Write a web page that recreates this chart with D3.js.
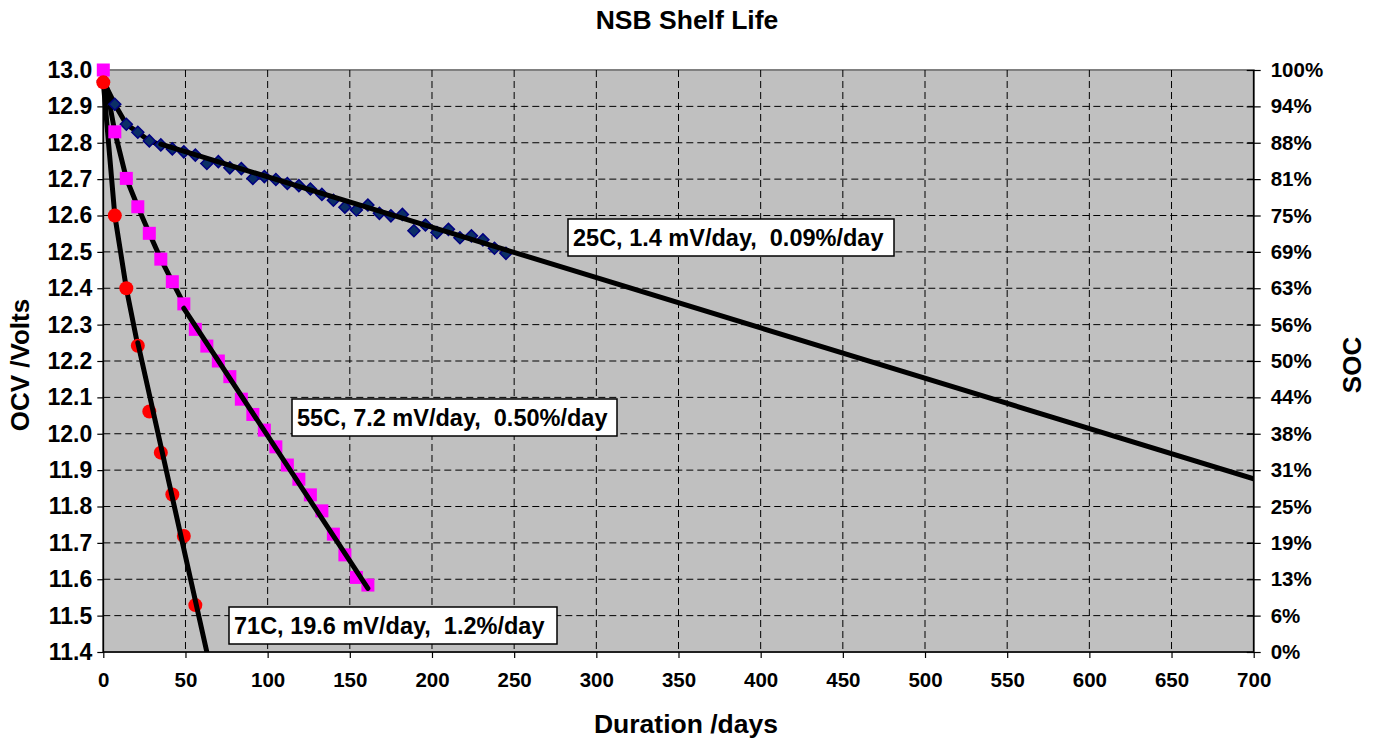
<!DOCTYPE html>
<html>
<head>
<meta charset="utf-8">
<script src="https://cdn.jsdelivr.net/npm/d3@7"></script>
<style>
  html, body { margin: 0; padding: 0; background: #ffffff; }
  svg { display: block; }
  text { font-family: "Liberation Sans", Arial, sans-serif; font-weight: bold; fill: #000; }
</style>
</head>
<body>
<div id="chart"></div>
<script>
// ---------------- DATA ----------------
const days25  = [0,7,14,21,28,35,42,49,56,63,70,77,84,91,98,105,112,119,126,133,140,147,154,161,168,175,182,189,196,203,210,217,224,231,238,245];
const volts25 = [12.970,12.906,12.851,12.829,12.805,12.794,12.783,12.775,12.766,12.743,12.748,12.731,12.729,12.702,12.707,12.699,12.688,12.682,12.673,12.658,12.642,12.623,12.615,12.629,12.606,12.599,12.603,12.558,12.574,12.553,12.562,12.539,12.544,12.533,12.510,12.496];

const days55  = [0,7,14,21,28,35,42,49,56,63,70,77,84,91,98,105,112,119,126,133,140,147,154,161];
const volts55 = [13.000,12.830,12.702,12.624,12.551,12.480,12.418,12.357,12.287,12.241,12.200,12.157,12.095,12.053,12.010,11.964,11.914,11.875,11.832,11.788,11.724,11.667,11.605,11.584];

const days71  = [0,7,14,21,28,35,42,49,56];
const volts71 = [12.966,12.600,12.400,12.242,12.061,11.948,11.833,11.719,11.529];

// fitted trend lines: [day, volts] start and end
const trend25 = [[35, 12.796], [700, 11.876]];
const trend55 = [[49, 12.345], [161, 11.575]];
const trend71 = [[21, 12.250], [63, 11.400]];
// days up to which the measured points are joined by a line
const joinUntil25 = 35, joinUntil55 = 49, joinUntil71 = 21;

const xTicks = [0,50,100,150,200,250,300,350,400,450,500,550,600,650,700];
const yTicks = [11.4,11.5,11.6,11.7,11.8,11.9,12.0,12.1,12.2,12.3,12.4,12.5,12.6,12.7,12.8,12.9,13.0];
const socLabels = ["0%","6%","13%","19%","25%","31%","38%","44%","50%","56%","63%","69%","75%","81%","88%","94%","100%"];

const labels = [
  {text: "25C, 1.4 mV/day,  0.09%/day"},
  {text: "55C, 7.2 mV/day,  0.50%/day"},
  {text: "71C, 19.6 mV/day,  1.2%/day"}
];

// ---------------- LAYOUT ----------------
const W = 1375, H = 740;
const L = 103.3, R = 1253.7, T = 70, B = 652;

const svg = d3.select("#chart").append("svg").attr("width", W).attr("height", H);

const x = d3.scaleLinear().domain([0, 700]).range([L, R]);
const y = d3.scaleLinear().domain([11.4, 13.0]).range([B, T]);

// plot background
svg.append("rect").attr("x", L).attr("y", T).attr("width", R - L).attr("height", B - T)
  .attr("fill", "#c0c0c0").attr("stroke", "#808080").attr("stroke-width", 2);

svg.append("clipPath").attr("id", "clip").append("rect")
  .attr("x", L - 10).attr("y", T - 10).attr("width", R - L + 10).attr("height", B - T + 10);

// gridlines
const grid = svg.append("g");
grid.selectAll("line.v").data(xTicks.filter(d => d > 0 && d < 700)).enter().append("line")
  .attr("x1", d => x(d)).attr("x2", d => x(d)).attr("y1", T).attr("y2", B)
  .attr("stroke", "#000").attr("stroke-width", 1).attr("stroke-dasharray", "7,4");
grid.selectAll("line.h").data(yTicks.filter(d => d > 11.45 && d < 12.95)).enter().append("line")
  .attr("y1", d => y(d)).attr("y2", d => y(d)).attr("x1", L).attr("x2", R)
  .attr("stroke", "#000").attr("stroke-width", 1).attr("stroke-dasharray", "7,4");

// axes
const fmt1 = d3.format(".1f");
const xAxis = d3.axisBottom(x).tickValues(xTicks).tickSize(6).tickPadding(14).tickFormat(d3.format("d"));
const yAxis = d3.axisLeft(y).tickValues(yTicks).tickSize(6).tickPadding(5).tickFormat(fmt1);
const yAxisR = d3.axisRight(y).tickValues(yTicks).tickSize(7).tickPadding(10)
  .tickFormat((d, i) => socLabels[i]);

function styleAxis(g, fs) {
  g.select(".domain").attr("stroke", "#000").attr("stroke-width", 1.5);
  g.selectAll(".tick line").attr("stroke", "#000").attr("stroke-width", 1.2);
  g.selectAll(".tick text").style("font-size", fs + "px").style("font-weight", "bold").attr("fill", "#000");
}
svg.append("g").attr("transform", `translate(0,${B})`).call(xAxis).call(styleAxis, 20.5)
  .call(g => g.select(".domain").attr("d", `M${L},0H${R}`));
svg.append("g").attr("transform", `translate(${L},0)`).call(yAxis).call(styleAxis, 23)
  .call(g => g.select(".domain").attr("d", `M0,${B}V${T}`));
const gR = svg.append("g").attr("transform", `translate(${R},0)`).call(yAxisR).call(styleAxis, 20.5)
  .call(g => g.select(".domain").attr("d", `M0,${B}V${T}`));
gR.selectAll(".tick line").attr("x1", -7);

// series
const plot = svg.append("g").attr("clip-path", "url(#clip)");
const line = d3.line().x(d => x(d[0])).y(d => y(d[1]));

function joinPts(days, volts, until) {
  return days.map((d, i) => [d, volts[i]]).filter(p => p[0] <= until);
}
[[days25, volts25, joinUntil25], [days55, volts55, joinUntil55], [days71, volts71, joinUntil71]]
  .forEach(([d, v, u]) => {
    plot.append("path").datum(joinPts(d, v, u)).attr("d", line)
      .attr("fill", "none").attr("stroke", "#000").attr("stroke-width", 5).attr("stroke-linejoin", "round");
  });

const marks = svg.append("g");
// markers: diamonds 25C
const pts25 = days25.map((d, i) => [d, volts25[i]]);
marks.selectAll("path.dia").data(pts25).enter().append("path")
  .attr("d", d3.symbol().type(d3.symbolSquare).size(72))
  .attr("transform", d => `translate(${x(d[0])},${y(d[1])}) rotate(45)`)
  .attr("fill", "#0b2f66").attr("stroke", "#000080").attr("stroke-width", 1.5);

// squares 55C
const pts55 = days55.map((d, i) => [d, volts55[i]]);
marks.selectAll("rect.sq").data(pts55).enter().append("rect")
  .attr("x", d => x(d[0]) - 6.5).attr("y", d => y(d[1]) - 6.5)
  .attr("width", 13).attr("height", 13).attr("fill", "#ff00ff");

// circles 71C
const pts71 = days71.map((d, i) => [d, volts71[i]]);
marks.selectAll("circle.c").data(pts71).enter().append("circle")
  .attr("cx", d => x(d[0])).attr("cy", d => y(d[1])).attr("r", 7).attr("fill", "#ff0000");

// trend lines
const trends = svg.append("g").attr("clip-path", "url(#clip)");
[trend25, trend55, trend71].forEach(t => {
  trends.append("path").datum(t).attr("d", line)
    .attr("fill", "none").attr("stroke", "#000").attr("stroke-width", 5).attr("stroke-linecap", "round");
});

// annotation boxes
const boxPos = [[568, 219, 326], [292, 399, 325], [229, 607, 328]];
labels.forEach((lb, i) => {
  const [bx, by, bw] = boxPos[i];
  svg.append("rect").attr("x", bx).attr("y", by).attr("width", bw).attr("height", 37)
    .attr("fill", "#fff").attr("stroke", "#000").attr("stroke-width", 1.5);
  svg.append("text").attr("x", bx + 5).attr("y", by + 27).attr("xml:space", "preserve")
    .style("white-space", "pre").style("font-size", "23.5px").text(lb.text);
});

// titles
svg.append("text").attr("x", 687).attr("y", 29).attr("text-anchor", "middle")
  .style("font-size", "26.5px").text("NSB Shelf Life");
svg.append("text").attr("x", 686).attr("y", 733).attr("text-anchor", "middle")
  .style("font-size", "26.5px").text("Duration /days");
svg.append("text").attr("transform", "translate(29,365) rotate(-90)").attr("text-anchor", "middle")
  .style("font-size", "26px").text("OCV /Volts");
svg.append("text").attr("transform", "translate(1361,365) rotate(-90)").attr("text-anchor", "middle")
  .style("font-size", "26px").text("SOC");
</script>
</body>
</html>
